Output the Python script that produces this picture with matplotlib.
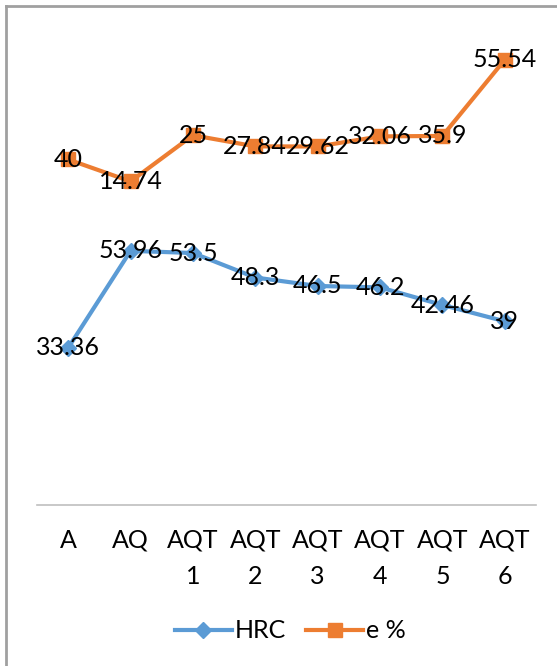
import numpy as np
import matplotlib.pyplot as plt
from matplotlib.lines import Line2D

plt.rcParams['font.family'] = ['Lato', 'DejaVu Sans']

categories = ['A', 'AQ', 'AQT\n1', 'AQT\n2', 'AQT\n3', 'AQT\n4', 'AQT\n5', 'AQT\n6']
hrc = [33.36, 53.96, 53.5, 48.3, 46.5, 46.2, 42.46, 39]
e_pct = [40, 14.74, 25, 27.84, 29.62, 32.06, 35.9, 55.54]

blue = '#5B9BD5'
orange = '#ED7D31'

x = np.arange(len(categories))
# stacked line chart: second series sits on top of the first
e_stacked = np.array(hrc) + np.array(e_pct)

fig = plt.figure(figsize=(5.57, 6.66), dpi=100)
ax = fig.add_axes([37 / 557, 161 / 666, 499 / 557, 471 / 666])

ax.plot(x, hrc, color=blue, lw=3, marker='D', ms=8, label='HRC', zorder=3)
ax.plot(x, e_stacked, color=orange, lw=3, marker='s', ms=10, label='e %', zorder=3)

for xi, yv, lab in zip(x, hrc, hrc):
    ax.text(xi, yv, f'{lab:g}', ha='center', va='center', fontsize=18, color='black', zorder=4)
for xi, yv, lab in zip(x, e_stacked, e_pct):
    ax.text(xi, yv, f'{lab:g}', ha='center', va='center', fontsize=18, color='black', zorder=4)

ax.set_xlim(-0.5, len(categories) - 0.5)
ax.set_ylim(0, 100)
ax.set_xticks(x)
ax.set_xticklabels(categories, fontsize=18, linespacing=1.7)
ax.tick_params(axis='x', length=0, pad=17)
ax.set_yticks([])
for side in ['top', 'right', 'left']:
    ax.spines[side].set_visible(False)
ax.spines['bottom'].set_color('#bfbfbf')
ax.spines['bottom'].set_linewidth(1.2)

handles = [Line2D([], [], color=blue, lw=3, marker='D', ms=8),
           Line2D([], [], color=orange, lw=3, marker='s', ms=10)]
fig.legend(handles, ['HRC', 'e %'], loc='center', bbox_to_anchor=(290 / 557, 1 - 631 / 666),
           ncol=2, frameon=False, fontsize=18, handlelength=2.3, handletextpad=0.1,
           columnspacing=0.8)

# chart area border (only top and left visible in the crop)
fig.add_artist(Line2D([6 / 557, 6 / 557], [0, 1 - 6 / 666], color='#a0a0a0', lw=2,
                      transform=fig.transFigure))
fig.add_artist(Line2D([6 / 557, 1], [1 - 6 / 666, 1 - 6 / 666], color='#a0a0a0', lw=2,
                      transform=fig.transFigure))

fig.savefig('out.png', dpi=100)
